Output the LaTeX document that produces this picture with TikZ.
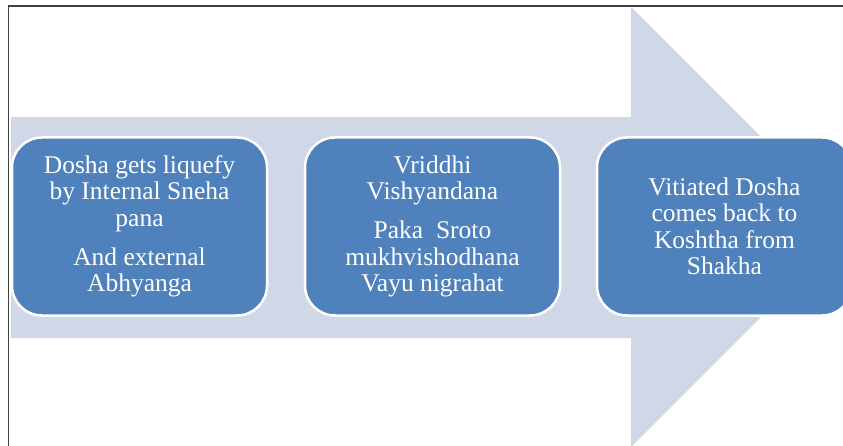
\documentclass[tikz,border=0pt]{standalone}
\usepackage{fontspec}
\setmainfont{Liberation Serif}
\newfontfamily\stagefont{Liberation Serif}
\usetikzlibrary{positioning}
\definecolor{stageblue}{HTML}{4F81BD}
\definecolor{flowgray}{HTML}{D0D8E8}
\tikzset{
		stage/.style={
			draw=white, line width=2.5pt, fill=stageblue, text=white,
			rounded corners=30pt, minimum width=255pt, minimum height=178pt,
			align=center, inner sep=0pt, outer sep=0pt,
			font=\stagefont\fontsize{25.5}{26.5}\selectfont
		},
		flow/.style={fill=flowgray, draw=none}
	}
\begin{document}
\begin{tikzpicture}[x=1pt,y=-1pt]
				\useasboundingbox (0,0) rectangle (843,446);
				\clip (0,0) rectangle (843,446);
				% frame
				\draw[line width=1.3pt, black!75] (8.5,446) -- (8.5,6) -- (843,6);
				% big arrow
				\fill[flow] (11,117) -- (631,117) -- (631,7) -- (851,227)
					-- (631,447) -- (631,338) -- (11,338) -- cycle;
				\node[stage] (dosha) at (139.5,226.5)
					{Dosha gets liquefy\\by Internal Sneha\\pana\\[12.5pt]And external\\Abhyanga};
				\node[stage, right=38pt of dosha] (vriddhi)
					{Vriddhi\\Vishyandana\\[12.5pt]Paka\ \ Sroto\\mukhvishodhana\\Vayu nigrahat};
				\node[stage, right=37pt of vriddhi] (vitiated)
					{Vitiated Dosha\\comes back to\\Koshtha from\\Shakha};
			\end{tikzpicture}
\end{document}
